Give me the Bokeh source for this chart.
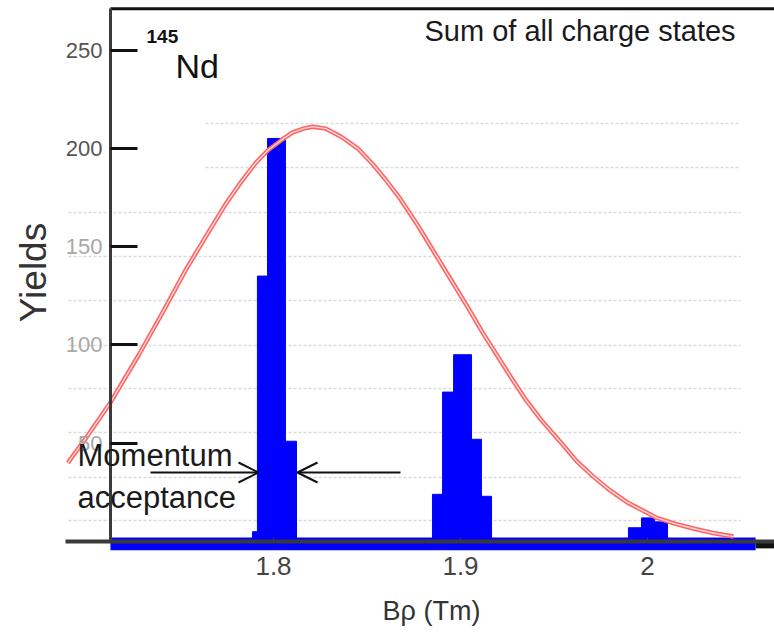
import math
from bokeh.plotting import figure
from bokeh.models import (Range1d, FixedTicker, LinearAxis, Label, Arrow, OpenHead,
                          CustomJSTickFormatter)
from bokeh.embed import file_html
from bokeh.resources import INLINE

# ---------------- data ----------------
bar_left = [1.7888, 1.7914, 1.7968, 1.8064,
            1.8850, 1.8904, 1.8963, 1.9059, 1.9112,
            1.9898, 1.9968, 2.0037]
bar_right = [1.7914, 1.7968, 1.8064, 1.8123,
             1.8904, 1.8963, 1.9059, 1.9112, 1.9166,
             1.9968, 2.0037, 2.0107]
bar_yield = [5, 135, 205, 51,
             24, 76, 95, 52, 23,
             7, 12, 10]

fit_brho = [1.690, 1.700, 1.713, 1.728, 1.741, 1.753, 1.765, 1.774, 1.782, 1.790,
            1.797, 1.804, 1.810, 1.816, 1.821, 1.828, 1.836, 1.845, 1.853, 1.860,
            1.868, 1.877, 1.886, 1.895, 1.904, 1.912, 1.920, 1.928, 1.935, 1.943,
            1.954, 1.962, 1.971, 1.980, 1.989, 1.997, 2.005, 2.015, 2.025, 2.035, 2.046]
fit_yield = [40, 53, 71, 95, 117, 138, 157, 171, 182, 192,
             199, 204, 208, 210, 211, 210, 206, 200, 192, 184,
             174, 161, 147, 133, 119, 106, 94, 82, 72, 62,
             50, 41, 33, 26, 20, 16, 12, 9, 6.5, 4.3, 2.5]

x_ticks = [1.8, 1.9, 2.0]
y_ticks_dark = [200, 250]
y_ticks_light = [50, 100, 150]
ghost_grid_upper = [212.6, 190.2]
ghost_grid_lower = [167.3, 145.0, 122.6, 99.7, 77.8, 55.4, 32.6, 10.7]

# ---------------- layout constants ----------------
W, H = 774, 636
X0, X1 = 1.65401, 2.06791
Y0, Y1 = -48.32, 275.18
YAX_X = 1.7128
YTOP = 271.0
BAND_END = 2.0578
PXX = (X1 - X0) / W
PXY = (Y1 - Y0) / H


def dx(px):
    return X0 + px * PXX


def dy(py):
    return Y1 - py * PXY


SANS = "Liberation Sans"

p = figure(width=W, height=H, x_range=Range1d(X0, X1), y_range=Range1d(Y0, Y1),
           output_backend="svg", toolbar_location=None, min_border=0,
           outline_line_color=None, background_fill_color="white")
p.xgrid.visible = False
p.ygrid.visible = False

# faint ghost grid lines
p.segment(x0=[dx(205)] * len(ghost_grid_upper), x1=[dx(740)] * len(ghost_grid_upper),
          y0=ghost_grid_upper, y1=ghost_grid_upper,
          line_color="#dadada", line_dash="3 2", line_width=1.5)
p.segment(x0=[dx(68)] * len(ghost_grid_lower), x1=[dx(740)] * len(ghost_grid_lower),
          y0=ghost_grid_lower, y1=ghost_grid_lower,
          line_color="#dadada", line_dash="3 2", line_width=1.5)

# baseline band
p.quad(left=[YAX_X], right=[BAND_END], bottom=[-4.5], top=[2], fill_color="#0000ff", line_color=None)
p.quad(left=[BAND_END], right=[X1], bottom=[-3.5], top=[0.5], fill_color="#111111", line_color=None)

# histogram bars
p.quad(left=bar_left, right=bar_right, bottom=0, top=bar_yield,
       fill_color="#0000ff", line_color="#0000ff", line_width=1)

# fit curve (double line look)
p.line(fit_brho, fit_yield, line_color="#ff6464", line_width=4.5, line_join="round")
p.line(fit_brho, fit_yield, line_color="#ffdada", line_width=1.4, line_join="round")

# top frame line
p.segment(x0=[YAX_X], y0=[YTOP], x1=[X1], y1=[YTOP], line_color="#111111", line_width=3)

# x axis
xa = p.xaxis[0]
xa.fixed_location = 0
xa.bounds = (dx(65), X1)
xa.ticker = FixedTicker(ticks=x_ticks)
xa.formatter = CustomJSTickFormatter(code="return String(tick)")
xa.axis_line_color = "#3a3a3a"
xa.axis_line_width = 4
xa.major_tick_in = 4
xa.major_tick_out = 0
xa.major_tick_line_color = "#3a3a3a"
xa.minor_tick_line_color = None
xa.major_label_standoff = 15
xa.major_label_text_font = SANS
xa.major_label_text_font_size = "26px"
xa.major_label_text_color = "#444444"

# y axis (dark labels)
ya = p.yaxis[0]
ya.fixed_location = YAX_X
ya.bounds = (0, YTOP)
ya.ticker = FixedTicker(ticks=y_ticks_dark)
ya.axis_line_color = "#3a3a3a"
ya.axis_line_width = 3
ya.major_tick_in = 27
ya.major_tick_out = 0
ya.major_tick_line_width = 3
ya.major_tick_line_color = "#111111"
ya.minor_tick_line_color = None
ya.major_label_standoff = 8
ya.major_label_text_font = SANS
ya.major_label_text_font_size = "22px"
ya.major_label_text_color = "#555555"

# y axis (faint labels)
ya2 = LinearAxis(fixed_location=YAX_X, ticker=FixedTicker(ticks=y_ticks_light),
                 axis_line_color=None, major_tick_in=27, major_tick_out=0,
                 major_tick_line_width=3, major_tick_line_color="#111111",
                 minor_tick_line_color=None, major_label_standoff=8,
                 major_label_text_font=SANS, major_label_text_font_size="22px",
                 major_label_text_color="#a8a8a8")
p.add_layout(ya2, "left")

# texts (top-anchored at the glyph tops seen in the reference)
p.add_layout(Label(x=dx(424), y=dy(14), text="Sum of all charge states",
                   text_font=SANS, text_font_size="29px", text_color="#1a1a1a",
                   text_baseline="top"))
p.add_layout(Label(x=dx(146), y=dy(29), text="145", text_font=SANS, text_font_style="bold",
                   text_font_size="19px", text_color="#111111", text_baseline="top"))
p.add_layout(Label(x=dx(175), y=dy(46), text="Nd", text_font=SANS,
                   text_font_size="34px", text_color="#111111", text_baseline="top"))
p.add_layout(Label(x=dx(77), y=dy(437), text="Momentum", text_font=SANS,
                   text_font_size="31px", text_color="#1a1a1a", text_baseline="top"))
p.add_layout(Label(x=dx(77), y=dy(479), text="acceptance", text_font=SANS,
                   text_font_size="31px", text_color="#1a1a1a", text_baseline="top"))
p.add_layout(Label(x=dx(33), y=dy(272), text="Yields", text_font=SANS, angle=math.pi / 2,
                   text_font_size="37px", text_color="#333333",
                   text_align="center", text_baseline="middle"))
p.add_layout(Label(x=dx(431), y=dy(610), text="B\u03c1 (Tm)", text_font=SANS,
                   text_font_size="27px", text_color="#333333",
                   text_align="center", text_baseline="middle"))

# arrows
p.add_layout(Arrow(end=OpenHead(size=20, line_width=2, line_color="#111111"),
                   x_start=dx(150), y_start=dy(472), x_end=dx(258), y_end=dy(472),
                   line_width=2, line_color="#111111"))
p.add_layout(Arrow(end=OpenHead(size=20, line_width=2, line_color="#111111"),
                   x_start=dx(400), y_start=dy(472), x_end=dx(297), y_end=dy(472),
                   line_width=2, line_color="#111111"))

open("out.html", "w").write(file_html(p, INLINE))
